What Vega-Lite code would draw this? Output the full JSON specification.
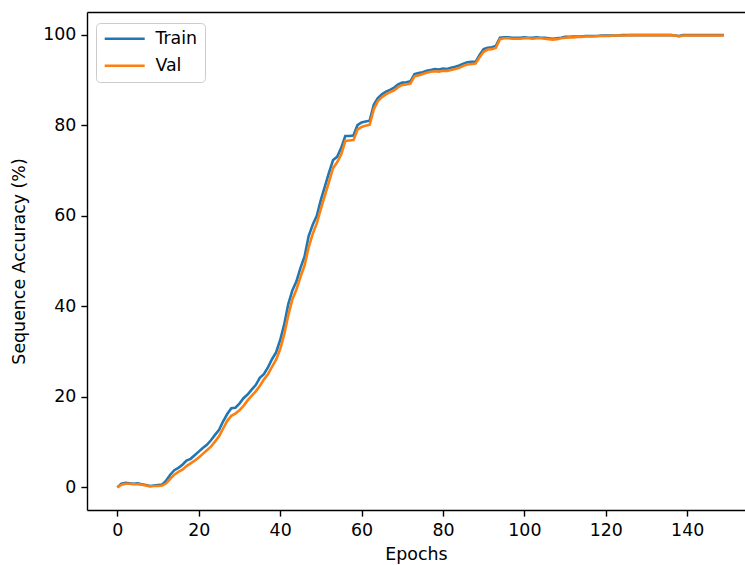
{
  "$schema": "https://vega.github.io/schema/vega-lite/v6.json",
  "width": 658,
  "height": 498,
  "autosize": {"type": "none"},
  "padding": {"left": 87, "top": 12, "right": 0, "bottom": 55},
  "background": "white",
  "config": {
    "view": {"stroke": null},
    "font": "DejaVu Sans",
    "axis": {
      "labelFont": "DejaVu Sans", "labelFontSize": 17.4, "labelColor": "#000",
      "titleFont": "DejaVu Sans", "titleFontSize": 17.4, "titleFontWeight": "normal", "titleColor": "#000",
      "domainColor": "#000", "domainWidth": 1.4, "tickColor": "#000", "tickWidth": 1.4, "tickSize": 6.1,
      "grid": false, "labelPadding": 5
    },
    "legend": {
      "orient": "none", "legendX": 9, "legendY": 11,
      "fillColor": "rgba(255,255,255,0.8)", "strokeColor": "#cccccc", "cornerRadius": 4,
      "padding": 7, "rowPadding": 8,
      "labelFont": "DejaVu Sans", "labelFontSize": 17.4, "labelColor": "#000",
      "symbolType": "M-4,0H4", "symbolSize": 100, "symbolStrokeWidth": 2.6, "symbolOffset": 13, "labelOffset": 22
    }
  },
  "data": {"values": [
    {"epoch":0,"Train":0.0,"Val":0.0},{"epoch":1,"Train":0.8,"Val":0.6},{"epoch":2,"Train":1.0,"Val":0.8},{"epoch":3,"Train":0.9,"Val":0.8},{"epoch":4,"Train":0.8,"Val":0.7},
    {"epoch":5,"Train":0.9,"Val":0.7},{"epoch":6,"Train":0.7,"Val":0.6},{"epoch":7,"Train":0.5,"Val":0.4},{"epoch":8,"Train":0.3,"Val":0.2},{"epoch":9,"Train":0.4,"Val":0.3},
    {"epoch":10,"Train":0.5,"Val":0.3},{"epoch":11,"Train":0.6,"Val":0.4},{"epoch":12,"Train":1.5,"Val":0.9},{"epoch":13,"Train":2.8,"Val":1.9},{"epoch":14,"Train":3.8,"Val":2.8},
    {"epoch":15,"Train":4.3,"Val":3.4},{"epoch":16,"Train":5.0,"Val":3.9},{"epoch":17,"Train":5.9,"Val":4.7},{"epoch":18,"Train":6.3,"Val":5.3},{"epoch":19,"Train":7.1,"Val":5.9},
    {"epoch":20,"Train":7.9,"Val":6.6},{"epoch":21,"Train":8.7,"Val":7.4},{"epoch":22,"Train":9.4,"Val":8.2},{"epoch":23,"Train":10.4,"Val":9.0},{"epoch":24,"Train":11.6,"Val":10.1},
    {"epoch":25,"Train":12.7,"Val":11.3},{"epoch":26,"Train":14.6,"Val":13.0},{"epoch":27,"Train":16.2,"Val":14.7},{"epoch":28,"Train":17.5,"Val":15.8},{"epoch":29,"Train":17.6,"Val":16.3},
    {"epoch":30,"Train":18.5,"Val":17.0},{"epoch":31,"Train":19.7,"Val":18.0},{"epoch":32,"Train":20.5,"Val":19.2},{"epoch":33,"Train":21.6,"Val":20.2},{"epoch":34,"Train":22.6,"Val":21.2},
    {"epoch":35,"Train":24.2,"Val":22.4},{"epoch":36,"Train":25.0,"Val":23.8},{"epoch":37,"Train":26.5,"Val":25.0},{"epoch":38,"Train":28.3,"Val":26.6},{"epoch":39,"Train":29.8,"Val":28.2},
    {"epoch":40,"Train":32.5,"Val":30.5},{"epoch":41,"Train":36.0,"Val":33.8},{"epoch":42,"Train":40.5,"Val":38.0},{"epoch":43,"Train":43.5,"Val":41.5},{"epoch":44,"Train":45.5,"Val":43.7},
    {"epoch":45,"Train":48.5,"Val":46.5},{"epoch":46,"Train":51.0,"Val":49.0},{"epoch":47,"Train":55.5,"Val":53.0},{"epoch":48,"Train":58.0,"Val":56.0},{"epoch":49,"Train":60.0,"Val":58.3},
    {"epoch":50,"Train":63.5,"Val":61.5},{"epoch":51,"Train":66.5,"Val":64.5},{"epoch":52,"Train":69.5,"Val":67.5},{"epoch":53,"Train":72.3,"Val":70.5},{"epoch":54,"Train":73.0,"Val":71.8},
    {"epoch":55,"Train":75.0,"Val":73.5},{"epoch":56,"Train":77.6,"Val":76.5},{"epoch":57,"Train":77.6,"Val":76.6},{"epoch":58,"Train":77.7,"Val":76.7},{"epoch":59,"Train":80.0,"Val":79.0},
    {"epoch":60,"Train":80.6,"Val":79.6},{"epoch":61,"Train":80.8,"Val":79.9},{"epoch":62,"Train":81.0,"Val":80.1},{"epoch":63,"Train":84.5,"Val":83.5},{"epoch":64,"Train":86.0,"Val":85.3},
    {"epoch":65,"Train":86.8,"Val":86.2},{"epoch":66,"Train":87.4,"Val":86.8},{"epoch":67,"Train":87.8,"Val":87.3},{"epoch":68,"Train":88.3,"Val":87.7},{"epoch":69,"Train":89.0,"Val":88.4},
    {"epoch":70,"Train":89.4,"Val":88.9},{"epoch":71,"Train":89.5,"Val":89.0},{"epoch":72,"Train":89.7,"Val":89.2},{"epoch":73,"Train":91.3,"Val":90.8},{"epoch":74,"Train":91.5,"Val":91.0},
    {"epoch":75,"Train":91.7,"Val":91.3},{"epoch":76,"Train":92.0,"Val":91.6},{"epoch":77,"Train":92.2,"Val":91.8},{"epoch":78,"Train":92.4,"Val":91.9},{"epoch":79,"Train":92.3,"Val":91.8},
    {"epoch":80,"Train":92.5,"Val":92.0},{"epoch":81,"Train":92.4,"Val":92.0},{"epoch":82,"Train":92.7,"Val":92.2},{"epoch":83,"Train":92.9,"Val":92.4},{"epoch":84,"Train":93.2,"Val":92.7},
    {"epoch":85,"Train":93.6,"Val":93.1},{"epoch":86,"Train":93.9,"Val":93.4},{"epoch":87,"Train":94.0,"Val":93.5},{"epoch":88,"Train":94.0,"Val":93.6},{"epoch":89,"Train":95.5,"Val":95.0},
    {"epoch":90,"Train":96.8,"Val":96.2},{"epoch":91,"Train":97.1,"Val":96.7},{"epoch":92,"Train":97.2,"Val":96.8},{"epoch":93,"Train":97.5,"Val":97.1},{"epoch":94,"Train":99.3,"Val":99.0},
    {"epoch":95,"Train":99.4,"Val":99.2},{"epoch":96,"Train":99.4,"Val":99.2},{"epoch":97,"Train":99.3,"Val":99.1},{"epoch":98,"Train":99.3,"Val":99.1},{"epoch":99,"Train":99.3,"Val":99.1},
    {"epoch":100,"Train":99.4,"Val":99.2},{"epoch":101,"Train":99.3,"Val":99.2},{"epoch":102,"Train":99.3,"Val":99.1},{"epoch":103,"Train":99.4,"Val":99.2},{"epoch":104,"Train":99.3,"Val":99.2},
    {"epoch":105,"Train":99.3,"Val":99.1},{"epoch":106,"Train":99.2,"Val":99.0},{"epoch":107,"Train":99.1,"Val":98.9},{"epoch":108,"Train":99.2,"Val":99.0},{"epoch":109,"Train":99.3,"Val":99.2},
    {"epoch":110,"Train":99.5,"Val":99.3},{"epoch":111,"Train":99.5,"Val":99.4},{"epoch":112,"Train":99.6,"Val":99.4},{"epoch":113,"Train":99.6,"Val":99.5},{"epoch":114,"Train":99.6,"Val":99.5},
    {"epoch":115,"Train":99.7,"Val":99.6},{"epoch":116,"Train":99.7,"Val":99.6},{"epoch":117,"Train":99.7,"Val":99.6},{"epoch":118,"Train":99.7,"Val":99.7},{"epoch":119,"Train":99.8,"Val":99.7},
    {"epoch":120,"Train":99.8,"Val":99.7},{"epoch":121,"Train":99.8,"Val":99.7},{"epoch":122,"Train":99.8,"Val":99.8},{"epoch":123,"Train":99.8,"Val":99.8},{"epoch":124,"Train":99.9,"Val":99.8},
    {"epoch":125,"Train":99.9,"Val":99.8},{"epoch":126,"Train":99.9,"Val":99.9},{"epoch":127,"Train":99.9,"Val":99.9},{"epoch":128,"Train":99.9,"Val":99.9},{"epoch":129,"Train":99.9,"Val":99.9},
    {"epoch":130,"Train":99.9,"Val":99.9},{"epoch":131,"Train":99.9,"Val":99.9},{"epoch":132,"Train":99.9,"Val":99.9},{"epoch":133,"Train":99.9,"Val":99.9},{"epoch":134,"Train":99.9,"Val":99.9},
    {"epoch":135,"Train":99.9,"Val":99.9},{"epoch":136,"Train":99.9,"Val":99.9},{"epoch":137,"Train":99.8,"Val":99.8},{"epoch":138,"Train":99.7,"Val":99.6},{"epoch":139,"Train":99.9,"Val":99.8},
    {"epoch":140,"Train":99.9,"Val":99.8},{"epoch":141,"Train":99.9,"Val":99.8},{"epoch":142,"Train":99.9,"Val":99.8},{"epoch":143,"Train":99.9,"Val":99.8},{"epoch":144,"Train":99.9,"Val":99.8},
    {"epoch":145,"Train":99.9,"Val":99.8},{"epoch":146,"Train":99.9,"Val":99.8},{"epoch":147,"Train":99.9,"Val":99.8},{"epoch":148,"Train":99.9,"Val":99.8},{"epoch":149,"Train":99.9,"Val":99.8}
  ]},
  "resolve": {"axis": {"x": "independent"}},
  "layer": [
    {
      "mark": {"type": "line", "strokeWidth": 2.6, "clip": true},
      "encoding": {
        "x": {"field": "epoch", "type": "quantitative",
              "scale": {"domain": [-7.45, 154.2], "nice": false, "zero": false},
              "axis": {"orient": "bottom", "title": "Epochs", "values": [0,20,40,60,80,100,120,140], "titlePadding": 7, "format": "d"}},
        "y": {"field": "Train", "type": "quantitative",
              "scale": {"domain": [-5, 105], "nice": false, "zero": false},
              "axis": {"title": "Sequence Accuracy (%)", "values": [0,20,40,60,80,100], "titlePadding": 14, "format": "d"}},
        "color": {"datum": "Train", "type": "nominal",
                  "scale": {"domain": ["Train", "Val"], "range": ["#1f77b4", "#ff7f0e"]},
                  "legend": {"title": null}}
      }
    },
    {
      "mark": {"type": "line", "strokeWidth": 2.6, "clip": true},
      "encoding": {
        "x": {"field": "epoch", "type": "quantitative",
              "axis": {"orient": "top", "title": null, "labels": false, "ticks": false, "domain": true}},
        "y": {"field": "Val", "type": "quantitative"},
        "color": {"datum": "Val", "type": "nominal"}
      }
    }
  ]
}
